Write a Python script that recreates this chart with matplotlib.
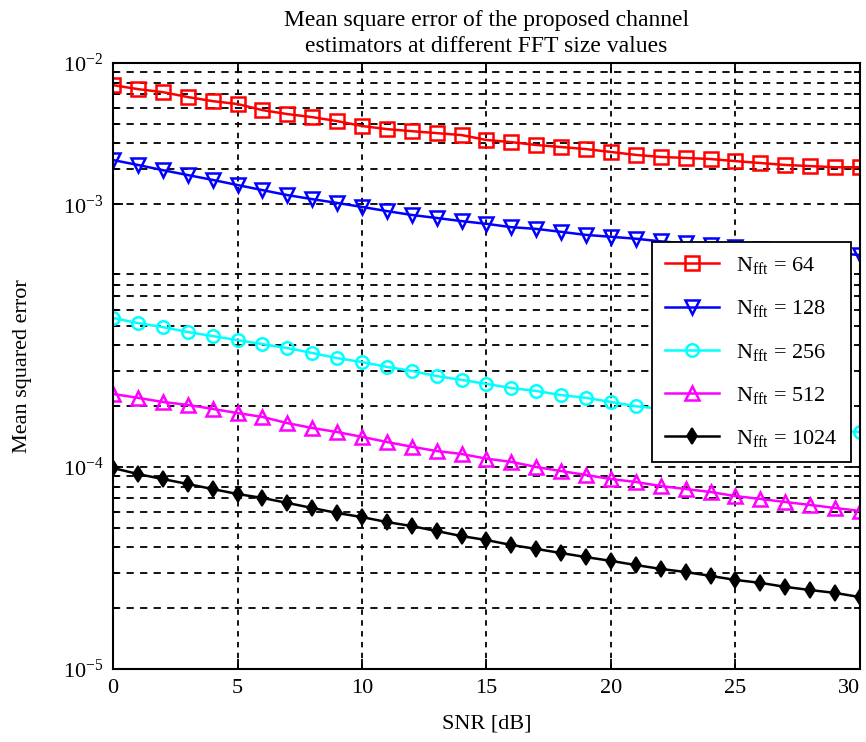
import matplotlib
matplotlib.use("Agg")
import matplotlib.pyplot as plt
from matplotlib.ticker import FixedLocator, FixedFormatter, LogLocator, NullFormatter
import numpy as np

plt.rcParams['font.family'] = ['Liberation Serif', 'DejaVu Serif']
plt.rcParams['mathtext.fontset'] = 'custom'
plt.rcParams['mathtext.rm'] = 'Liberation Serif'
plt.rcParams['mathtext.it'] = 'Liberation Serif:italic'

snr = list(range(0, 31))

mse_64 = [7.78e-3, 7.43e-3, 7.18e-3, 6.79e-3, 6.48e-3, 6.27e-3, 5.85e-3, 5.59e-3, 5.40e-3, 5.16e-3,
          4.88e-3, 4.71e-3, 4.60e-3, 4.50e-3, 4.40e-3, 4.16e-3, 4.06e-3, 3.93e-3, 3.84e-3, 3.75e-3,
          3.63e-3, 3.51e-3, 3.43e-3, 3.39e-3, 3.35e-3, 3.27e-3, 3.20e-3, 3.13e-3, 3.09e-3, 3.05e-3, 3.05e-3]
mse_128 = [3.31e-3, 3.13e-3, 2.95e-3, 2.79e-3, 2.64e-3, 2.49e-3, 2.35e-3, 2.22e-3, 2.12e-3, 2.03e-3,
           1.94e-3, 1.85e-3, 1.77e-3, 1.71e-3, 1.65e-3, 1.60e-3, 1.54e-3, 1.51e-3, 1.46e-3, 1.41e-3,
           1.38e-3, 1.35e-3, 1.31e-3, 1.28e-3, 1.26e-3, 1.23e-3, 1.20e-3, 1.19e-3, 1.16e-3, 1.15e-3, 1.12e-3]
mse_256 = [5.47e-4, 5.16e-4, 4.93e-4, 4.66e-4, 4.45e-4, 4.25e-4, 4.06e-4, 3.88e-4, 3.67e-4, 3.46e-4,
           3.31e-4, 3.13e-4, 2.99e-4, 2.82e-4, 2.70e-4, 2.58e-4, 2.46e-4, 2.38e-4, 2.27e-4, 2.20e-4,
           2.10e-4, 2.00e-4, 1.94e-4, 1.87e-4, 1.81e-4, 1.75e-4, 1.69e-4, 1.63e-4, 1.58e-4, 1.52e-4, 1.49e-4]
mse_512 = [2.30e-4, 2.20e-4, 2.10e-4, 2.03e-4, 1.94e-4, 1.85e-4, 1.77e-4, 1.65e-4, 1.56e-4, 1.49e-4,
           1.41e-4, 1.33e-4, 1.26e-4, 1.20e-4, 1.16e-4, 1.10e-4, 1.06e-4, 1.00e-4, 9.55e-5, 9.13e-5,
           8.72e-5, 8.43e-5, 8.05e-5, 7.78e-5, 7.52e-5, 7.18e-5, 6.95e-5, 6.71e-5, 6.49e-5, 6.27e-5, 6.06e-5]
mse_1024 = [9.89e-5, 9.23e-5, 8.72e-5, 8.24e-5, 7.78e-5, 7.35e-5, 7.03e-5, 6.64e-5, 6.27e-5, 5.92e-5,
            5.65e-5, 5.34e-5, 5.10e-5, 4.82e-5, 4.55e-5, 4.35e-5, 4.11e-5, 3.93e-5, 3.75e-5, 3.58e-5,
            3.43e-5, 3.27e-5, 3.13e-5, 3.02e-5, 2.89e-5, 2.76e-5, 2.67e-5, 2.55e-5, 2.46e-5, 2.38e-5, 2.27e-5]

labels = [r'$\mathrm{N_{fft}}$ = 64', r'$\mathrm{N_{fft}}$ = 128', r'$\mathrm{N_{fft}}$ = 256',
          r'$\mathrm{N_{fft}}$ = 512', r'$\mathrm{N_{fft}}$ = 1024']
xticks = [0, 5, 10, 15, 20, 25, 30]
ytick_pos = [1e-5, 1e-4, 2e-3, 1e-2]
ytick_labels = [r'$10^{-5}$', r'$10^{-4}$', r'$10^{-3}$', r'$10^{-2}$']

fig = plt.figure(figsize=(8.66, 7.42), dpi=100)
ax = fig.add_axes([0.1305, 0.0984, 0.8625, 0.8166])

styles = [
    dict(color='red', marker='s', ms=10, mfc='none', mew=1.8),
    dict(color='blue', marker='v', ms=10, mfc='none', mew=1.8),
    dict(color='cyan', marker='o', ms=9, mfc='none', mew=1.8),
    dict(color='magenta', marker='^', ms=10, mfc='none', mew=1.8),
    dict(color='black', marker='d', ms=8, mfc='black', mew=1.2),
]
for ys, lab, st in zip([mse_64, mse_128, mse_256, mse_512, mse_1024], labels, styles):
    ax.semilogy(snr, ys, lw=1.8, label=lab, **st)

ax.set_xlim(0, 30)
ax.set_ylim(1e-5, 1e-2)
ax.set_xticks(xticks)
ax.yaxis.set_major_locator(FixedLocator(ytick_pos))
ax.yaxis.set_major_formatter(FixedFormatter(ytick_labels))
ax.yaxis.set_minor_locator(LogLocator(base=10, subs=np.arange(2, 10)))
ax.yaxis.set_minor_formatter(NullFormatter())

ax.grid(True, axis='x', which='major', color='k', ls=(0, (3, 3)), lw=1.3)
ax.grid(True, axis='y', which='both', color='k', ls=(0, (4, 3.5)), lw=1.3)
ax.set_axisbelow(True)

ax.tick_params(which='both', direction='in', top=True, right=True, labelsize=16, width=1.3)
ax.tick_params(which='major', length=7, pad=7)
ax.tick_params(which='minor', length=4)
for s in ax.spines.values():
    s.set_linewidth(1.5)
xlabs = ax.get_xticklabels()
xlabs[-1].set_horizontalalignment('right')

ax.set_xlabel('SNR [dB]', fontsize=16, labelpad=12)
ax.set_ylabel('Mean squared error', fontsize=16, labelpad=22)
ax.set_title('Mean square error of the proposed channel\nestimators at different FFT size values',
             fontsize=17, pad=8, linespacing=1.3)

leg = ax.legend(loc='upper right', bbox_to_anchor=(0.988, 0.705), fontsize=16,
                frameon=True, fancybox=False, framealpha=1, edgecolor='black',
                handlelength=2.4, labelspacing=1.0, borderpad=0.6, borderaxespad=0,
                handletextpad=0.8)
leg.get_frame().set_linewidth(1.3)

fig.savefig('out.png', dpi=100)
